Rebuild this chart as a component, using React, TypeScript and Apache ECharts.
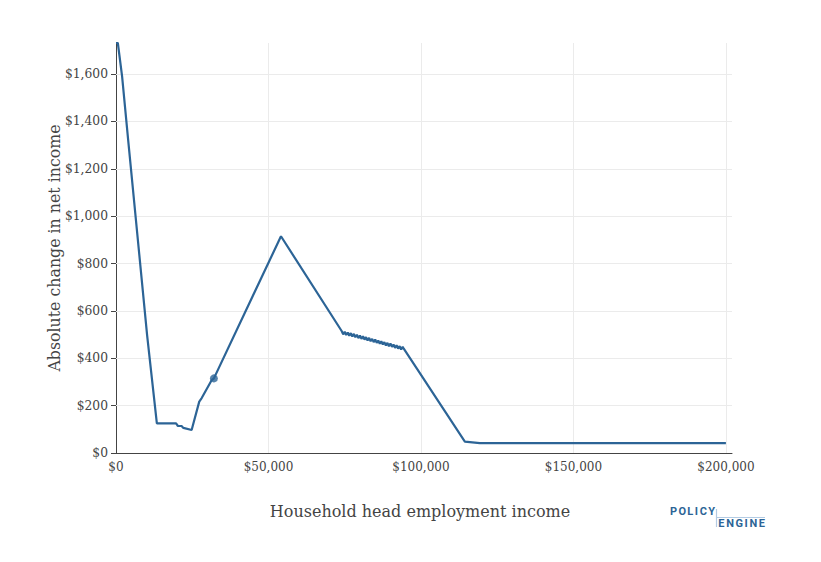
import React, { useEffect, useRef } from "react";
import * as echarts from "echarts";

const incomes: number[] = [
  0, 600, 2000, 4000, 10200, 13400, 19700, 20300, 21500, 22100, 24800, 27300, 28100, 31400, 32100, 54100,
  74000, 74500, 75000, 75500, 76000, 76500, 77000, 77500, 78000, 78500, 79000, 79500, 80000, 80500,
  81000, 81500, 82000, 82500, 83000, 83500, 84000, 84500, 85000, 85500, 86000, 86500, 87000, 87500,
  88000, 88500, 89000, 89500, 90000, 90500, 91000, 91500, 92000, 92500, 93000, 93500, 94000, 94200,
  114400, 119300, 200000,
];
const changes: number[] = [
  1731, 1731, 1590, 1320, 498, 125, 125, 114, 114, 106, 97, 217, 232, 308, 315, 915,
  515, 501, 512, 498, 509, 495, 506, 492, 503, 489, 499, 485, 496, 482,
  493, 479, 489, 475, 486, 472, 482, 468, 479, 465, 475, 461, 472, 458,
  468, 454, 465, 451, 462, 448, 458, 444, 455, 441, 451, 437, 448, 444,
  48, 42, 42,
];
const markerPoint: [number, number] = [32100, 315];
const xTicks: number[] = [0, 50000, 100000, 150000, 200000];
const yTicks: number[] = [0, 200, 400, 600, 800, 1000, 1200, 1400, 1600];

const LINE = "#2c6496";
const TEXT = "#444";
const FONT = "DejaVu Serif";

const fmt = (v: number) => "$" + Math.round(v).toLocaleString("en-US");

export default function App() {
  const ref = useRef<HTMLDivElement>(null);
  useEffect(() => {
    if (!ref.current) return;
    const chart = echarts.init(ref.current, undefined, { renderer: "svg" });
    const policy = ["P", "O", "L", "I", "C", "Y"];
    const policyX = [670, 678.4, 687.3, 694.8, 699.7, 708.3];
    const engine = ["E", "N", "G", "I", "N", "E"];
    const engineX = [718.3, 726.2, 735.4, 744.5, 749.5, 758.7];
    const logo: any[] = [];
    policy.forEach((ch, i) =>
      logo.push({
        type: "text",
        left: policyX[i],
        top: 506,
        style: { text: ch, fill: "#2c6496", font: "bold 11px Roboto" },
      })
    );
    engine.forEach((ch, i) =>
      logo.push({
        type: "text",
        left: engineX[i],
        top: 518,
        style: { text: ch, fill: "#2c6496", font: "bold 11px Roboto" },
      })
    );
    logo.push({
      type: "line",
      shape: { x1: 716.5, y1: 517.5, x2: 765, y2: 517.5 },
      style: { stroke: "#b3cbe3", lineWidth: 1.2 },
    });
    logo.push({
      type: "line",
      shape: { x1: 716.5, y1: 509, x2: 716.5, y2: 527 },
      style: { stroke: "#b3cbe3", lineWidth: 1.2 },
    });

    const gridData: any[] = [
      ...xTicks.filter((v) => v > 0).map((v) => ({ xAxis: v })),
      ...yTicks.filter((v) => v > 0).map((v) => ({ yAxis: v })),
    ];

    chart.setOption({
      animation: false,
      backgroundColor: "#fff",
      grid: { left: 116, right: 89, top: 43, bottom: 109, containLabel: false },
      xAxis: {
        type: "value",
        min: 0,
        max: 202000,
        interval: 50000,
        name: "Household head employment income",
        nameLocation: "middle",
        nameGap: 50,
        nameMoveOverlap: false,
        nameTextStyle: { fontFamily: FONT, fontSize: 16, color: TEXT, padding: [0, 8, 0, 0] },
        axisLine: { show: true, onZero: false, lineStyle: { color: "#444", width: 1 }, z: 2 },
        axisTick: { show: false },
        axisLabel: {
          color: TEXT,
          fontFamily: FONT,
          fontSize: 12,
          margin: 8,
          showMaxLabel: false,
          formatter: (v: number) => (xTicks.includes(v) ? fmt(v) : ""),
        },
        splitLine: { show: false },
      },
      yAxis: {
        type: "value",
        min: 0,
        max: 1731,
        interval: 200,
        name: "Absolute change in net income",
        nameLocation: "middle",
        nameGap: 54,
        nameMoveOverlap: false,
        nameTextStyle: { fontFamily: FONT, fontSize: 15.8, color: TEXT },
        axisLine: { show: true, lineStyle: { color: "#444", width: 1 } },
        axisTick: { show: true, length: 5, customValues: yTicks, lineStyle: { color: "#444" } },
        axisLabel: {
          color: TEXT,
          fontFamily: FONT,
          fontSize: 12.3,
          margin: 8,
          showMaxLabel: false,
          formatter: (v: number) => (yTicks.includes(v) ? fmt(v) : ""),
        },
        splitLine: { show: false },
      },
      series: [
        {
          type: "line",
          data: incomes.map((x, i) => [x, changes[i]]),
          showSymbol: false,
          symbol: "none",
          lineStyle: { opacity: 0 },
          silent: true,
          z: 1,
          markLine: {
            silent: true,
            z: 1,
            symbol: "none",
            label: { show: false },
            lineStyle: { color: "#ebebeb", width: 1, type: "solid" },
            data: gridData,
          },
        },
        {
          type: "line",
          data: incomes.map((x, i) => [x, changes[i]]),
          showSymbol: false,
          symbol: "none",
          lineStyle: { color: LINE, width: 2.2 },
          z: 3,
        },
        {
          type: "scatter",
          data: [markerPoint],
          symbolSize: 8,
          itemStyle: { color: LINE },
          z: 4,
        },
      ],
      graphic: logo,
    });
    return () => chart.dispose();
  }, []);
  return <div ref={ref} style={{ width: 821, height: 562, position: "absolute", left: 0, top: 0 }} />;
}
